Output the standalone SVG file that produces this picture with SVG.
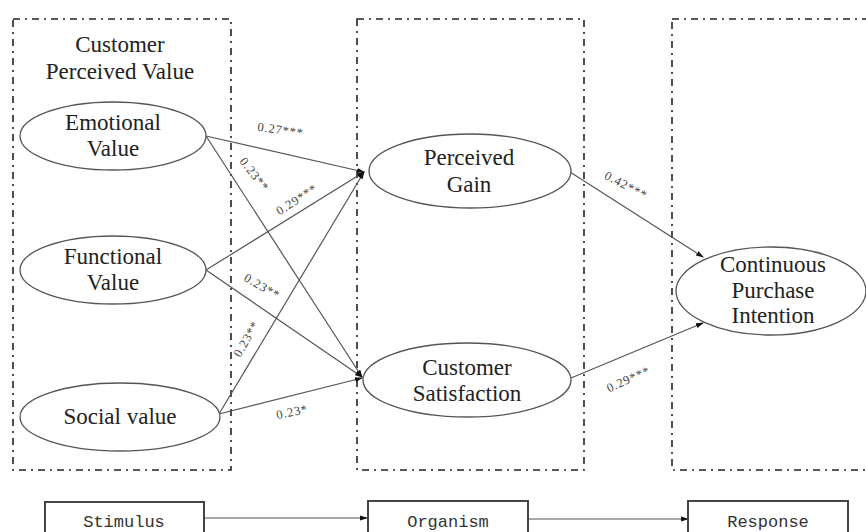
<svg xmlns="http://www.w3.org/2000/svg" width="866" height="532" viewBox="0 0 866 532">
<style>
.frame{fill:none;stroke:#222;stroke-width:1.6;stroke-dasharray:7 5 2 5}
.ell{fill:#fff;stroke:#555;stroke-width:1.3}
.t{font-family:"Liberation Serif","Times New Roman",serif;font-size:23px;fill:#222;text-anchor:middle}
.lbl{font-family:"Liberation Serif","Times New Roman",serif;font-size:12.5px;letter-spacing:0.8px;fill:#444;text-anchor:middle}
.ln{stroke:#555;stroke-width:1.2;fill:none}
.box{fill:#fff;stroke:#444;stroke-width:2}
.m{font-family:"Liberation Mono","Courier New",monospace;font-size:17px;fill:#333;text-anchor:middle}
</style>
<defs>
<marker id="ah" markerWidth="8" markerHeight="6" refX="7" refY="3" orient="auto" markerUnits="userSpaceOnUse">
<path d="M0,0.5 L8,3 L0,5.5 Z" fill="#111"/>
</marker>
</defs>
<g id="frames">
<rect class="frame" x="13" y="19" width="218" height="451"/>
<rect class="frame" x="357" y="19" width="227" height="451"/>
<rect class="frame" x="672" y="19" width="200" height="451"/>
</g>
<g id="connectors">
<line class="ln" x1="206" y1="136" x2="364" y2="172" marker-end="url(#ah)"/>
<line class="ln" x1="206" y1="136" x2="362" y2="377" marker-end="url(#ah)"/>
<line class="ln" x1="206" y1="270" x2="364" y2="172" marker-end="url(#ah)"/>
<line class="ln" x1="206" y1="270" x2="362" y2="377" marker-end="url(#ah)"/>
<line class="ln" x1="219" y1="414" x2="364" y2="172" marker-end="url(#ah)"/>
<line class="ln" x1="219" y1="414" x2="362" y2="378" marker-end="url(#ah)"/>
<line class="ln" x1="570" y1="172" x2="703" y2="257" marker-end="url(#ah)"/>
<line class="ln" x1="571" y1="378" x2="703" y2="323" marker-end="url(#ah)"/>
<line class="ln" x1="205" y1="518" x2="367" y2="518" marker-end="url(#ah)"/>
<line class="ln" x1="529" y1="519" x2="688" y2="519" marker-end="url(#ah)"/>
<text class="lbl" transform="translate(280,134) rotate(8)">0.27***</text>
<text class="lbl" transform="translate(251,177) rotate(52)">0.23**</text>
<text class="lbl" transform="translate(299,203) rotate(-33)">0.29***</text>
<text class="lbl" transform="translate(260,290) rotate(30)">0.23**</text>
<text class="lbl" transform="translate(250,341) rotate(-60)">0.23**</text>
<text class="lbl" transform="translate(293,416) rotate(-12)">0.23*</text>
<text class="lbl" transform="translate(624,189) rotate(28)">0.42***</text>
<text class="lbl" transform="translate(630,383) rotate(-24)">0.29***</text>
</g>
<g id="title-cpv">
<text class="t" x="120" y="52">Customer</text>
<text class="t" x="120" y="79">Perceived Value</text>
</g>
<g id="emotional">
<ellipse class="ell" cx="113" cy="136" rx="93" ry="34"/>
<text class="t" x="113" y="130">Emotional</text>
<text class="t" x="113" y="156">Value</text>
</g>
<g id="functional">
<ellipse class="ell" cx="113" cy="270" rx="93" ry="34"/>
<text class="t" x="113" y="264">Functional</text>
<text class="t" x="113" y="290">Value</text>
</g>
<g id="social">
<ellipse class="ell" cx="120" cy="417" rx="100" ry="34"/>
<text class="t" x="120" y="424">Social value</text>
</g>
<g id="gain">
<ellipse class="ell" cx="470" cy="171" rx="101" ry="37"/>
<text class="t" x="469" y="165">Perceived</text>
<text class="t" x="469" y="192">Gain</text>
</g>
<g id="satisfaction">
<ellipse class="ell" cx="467" cy="380" rx="104" ry="37"/>
<text class="t" x="467" y="375">Customer</text>
<text class="t" x="467" y="401">Satisfaction</text>
</g>
<g id="intention">
<ellipse class="ell" cx="771" cy="291" rx="95" ry="44"/>
<text class="t" x="773" y="272">Continuous</text>
<text class="t" x="773" y="298">Purchase</text>
<text class="t" x="773" y="323">Intention</text>
</g>
<g id="stimulus">
<rect class="box" x="45" y="502" width="159" height="34"/>
<text class="m" x="124" y="527">Stimulus</text>
</g>
<g id="organism">
<rect class="box" x="368" y="501" width="160" height="35"/>
<text class="m" x="448" y="527">Organism</text>
</g>
<g id="response">
<rect class="box" x="688" y="501" width="160" height="35"/>
<text class="m" x="768" y="527">Response</text>
</g>
</svg>
